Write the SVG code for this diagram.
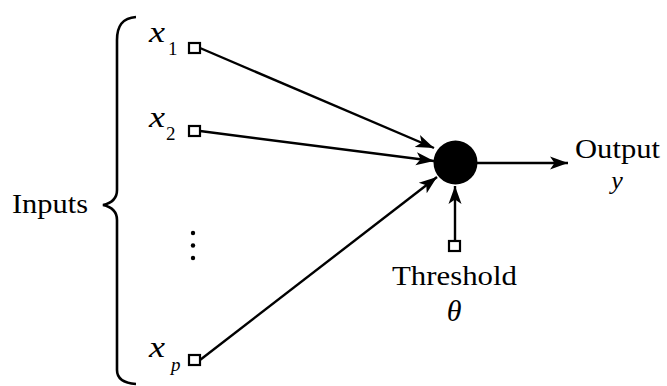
<svg xmlns="http://www.w3.org/2000/svg" width="667" height="386" viewBox="0 0 667 386" font-family="'Liberation Serif', 'Times New Roman', Times, serif">
<style>
text{font-family:'Liberation Serif','Times New Roman',Times,serif;fill:#000}
.lbl{font-size:27px}
.var{font-size:30px;font-style:italic}
.it{font-style:italic}
.sub{font-size:19px}
.edge{stroke:#000;stroke-width:2.4;fill:none}
.port{fill:#fff;stroke:#000;stroke-width:2.2}
</style>
<defs>
<marker id="ah" markerUnits="userSpaceOnUse" markerWidth="20" markerHeight="16" refX="18" refY="7" orient="auto" viewBox="0 0 20 14">
<path d="M18,7 L0,0.5 L4.5,7 L0,13.5 Z" fill="#000"/>
</marker>
</defs>
<rect width="667" height="386" fill="#fff"/>
<g id="inputs-brace">
<path d="M136,17 C122,18 117,26 117,40 L117,190 C117,198 112,203 103,205 C112,207 117,212 117,220 L117,370 C117,378 122,383 136,384" fill="none" stroke="#000" stroke-width="2.6"/>
<text class="lbl" x="12" y="213" textLength="76" lengthAdjust="spacingAndGlyphs">Inputs</text>
</g>
<g id="connectors">
<line class="edge" x1="200" y1="48" x2="434" y2="148" marker-end="url(#ah)"/>
<line class="edge" x1="200" y1="131" x2="434" y2="161" marker-end="url(#ah)"/>
<line class="edge" x1="200" y1="360" x2="437" y2="177" marker-end="url(#ah)"/>
<line class="edge" x1="455" y1="240" x2="455" y2="186" marker-end="url(#ah)"/>
<line class="edge" x1="477" y1="163" x2="568" y2="163" marker-end="url(#ah)"/>
</g>
<g id="x1">
<rect class="port" x="189" y="43" width="11" height="10"/>
<text class="var" x="149" y="42" textLength="16" lengthAdjust="spacingAndGlyphs">x</text>
<text class="sub" x="168" y="55">1</text>
</g>
<g id="x2">
<rect class="port" x="189" y="126" width="11" height="10"/>
<text class="var" x="149" y="127" textLength="16" lengthAdjust="spacingAndGlyphs">x</text>
<text class="sub" x="166" y="140">2</text>
</g>
<g id="dots">
<circle cx="193" cy="233" r="2.2"/>
<circle cx="193" cy="245.5" r="2.2"/>
<circle cx="193" cy="258" r="2.2"/>
</g>
<g id="xp">
<rect class="port" x="189" y="355" width="11" height="10"/>
<text class="var" x="149" y="357" textLength="16" lengthAdjust="spacingAndGlyphs">x</text>
<text class="sub it" x="171" y="371">p</text>
</g>
<g id="neuron">
<circle cx="455.5" cy="162.5" r="22" fill="#000"/>
</g>
<g id="threshold">
<rect class="port" x="449" y="241" width="11" height="10"/>
<text class="lbl" x="392" y="285" textLength="125" lengthAdjust="spacingAndGlyphs">Threshold</text>
<text class="var" x="454" y="321" text-anchor="middle">θ</text>
</g>
<g id="output">
<text class="lbl" x="575" y="158" textLength="85" lengthAdjust="spacingAndGlyphs">Output</text>
<text class="it" x="617" y="189" font-size="26" text-anchor="middle">y</text>
</g>
</svg>
